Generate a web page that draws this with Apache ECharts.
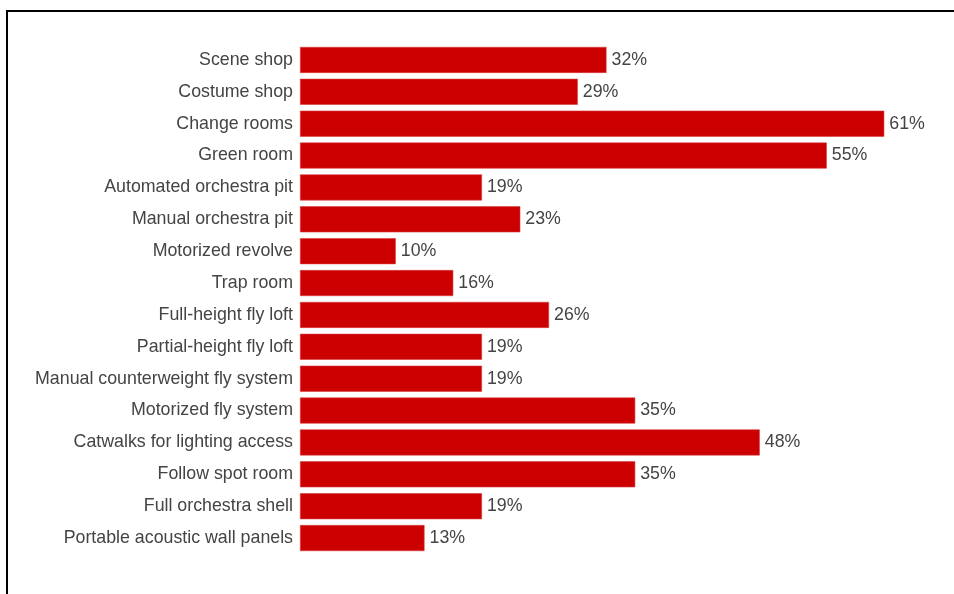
<!DOCTYPE html>
<html>
<head>
<meta charset="utf-8">
<script src="https://cdn.jsdelivr.net/npm/echarts@6/dist/echarts.min.js"></script>
<style>
  html, body { margin: 0; padding: 0; background: #fff; }
  #chart { width: 954px; height: 594px; }
</style>
</head>
<body>
<div id="chart"></div>
<script>
// Stage facilities and the share of venues that have them
const categories = [
  'Scene shop',
  'Costume shop',
  'Change rooms',
  'Green room',
  'Automated orchestra pit',
  'Manual orchestra pit',
  'Motorized revolve',
  'Trap room',
  'Full-height fly loft',
  'Partial-height fly loft',
  'Manual counterweight fly system',
  'Motorized fly system',
  'Catwalks for lighting access',
  'Follow spot room',
  'Full orchestra shell',
  'Portable acoustic wall panels'
];
const shares = [32, 29, 61, 55, 19, 23, 10, 16, 26, 19, 19, 35, 48, 35, 19, 13];

const chart = echarts.init(document.getElementById('chart'), null, { renderer: 'canvas' });
const font = '"Liberation Sans", Arial, sans-serif';

chart.setOption({
  backgroundColor: '#ffffff',
  animation: false,
  grid: { left: 300, right: 41, top: 44, bottom: 40, containLabel: false },
  xAxis: {
    type: 'value',
    min: 0,
    max: 64,
    show: false
  },
  yAxis: {
    type: 'category',
    data: categories,
    inverse: true,
    axisLine: { show: false },
    axisTick: { show: false },
    splitLine: { show: false },
    axisLabel: {
      color: '#444444',
      fontFamily: font,
      fontSize: 17.8,
      margin: 7
    }
  },
  series: [{
    type: 'bar',
    data: shares,
    barWidth: 26,
    itemStyle: {
      color: '#cc0000',
      borderColor: '#d83a3a',
      borderWidth: 0.6
    },
    label: {
      show: true,
      position: 'right',
      distance: 5,
      formatter: p => p.value + '%',
      color: '#444444',
      fontFamily: font,
      fontSize: 17.8
    }
  }],
  graphic: [
    { type: 'line', shape: { x1: 7, y1: 11, x2: 954, y2: 11 }, style: { stroke: '#000', lineWidth: 2 } },
    { type: 'line', shape: { x1: 7, y1: 10, x2: 7, y2: 594 }, style: { stroke: '#000', lineWidth: 2 } }
  ]
});
</script>
</body>
</html>
